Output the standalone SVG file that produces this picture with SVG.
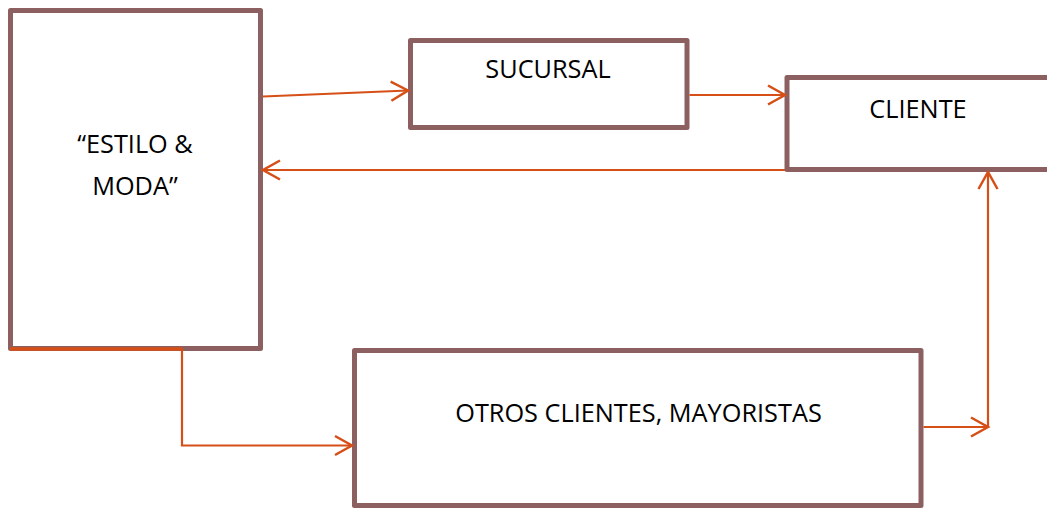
<svg xmlns="http://www.w3.org/2000/svg" width="1047" height="508" viewBox="0 0 1047 508">
<style>
.box{fill:#fff;stroke:#8C6060;stroke-width:5;stroke-linejoin:round}
.lbl{font-family:"Open Sans","Liberation Sans",sans-serif;font-size:25.3px;fill:#000;text-anchor:middle}
.con{fill:none;stroke:#D64F17;stroke-width:2.2}
</style>
<defs>
<marker id="arr" markerUnits="userSpaceOnUse" viewBox="-19 -12 21 24" refX="0" refY="0" markerWidth="21" markerHeight="24" orient="auto" overflow="visible">
<path d="M-17,-9.5 L0,0 L-17,9.5" fill="none" stroke="#D64F17" stroke-width="2.5"/>
</marker>
</defs>
<rect width="1047" height="508" fill="#fff"/>
<g id="estilo">
<rect class="box" x="10.5" y="10.5" width="250" height="338"/>
<text class="lbl" x="135" y="153">“ESTILO &amp;</text>
<text class="lbl" x="135" y="195">MODA”</text>
</g>
<g id="sucursal">
<rect class="box" x="410.5" y="40.5" width="276.5" height="87"/>
<text class="lbl" x="548" y="78">SUCURSAL</text>
</g>
<g id="cliente">
<rect class="box" x="787" y="77.5" width="265" height="92"/>
<text class="lbl" x="918" y="118">CLIENTE</text>
</g>
<g id="otros">
<rect class="box" x="354.5" y="350.5" width="566.5" height="155"/>
<text class="lbl" x="638.5" y="422">OTROS CLIENTES, MAYORISTAS</text>
</g>
<g id="connectors">
<path class="con" d="M263,96.5 L408,90.5" marker-end="url(#arr)"/>
<path class="con" d="M689.5,95 L785,95" marker-end="url(#arr)"/>
<path class="con" d="M785,170 L263,170" marker-end="url(#arr)"/>
<path class="con" d="M10,349 L182,349 L182,445.5 L352,445.5" marker-end="url(#arr)"/>
<path class="con" d="M10,349 L182,349" style="stroke-width:3.5"/>
<path class="con" d="M923.5,427 L988,427" marker-end="url(#arr)"/>
<path class="con" d="M988,427 L988,172" marker-end="url(#arr)"/>
</g>
</svg>
